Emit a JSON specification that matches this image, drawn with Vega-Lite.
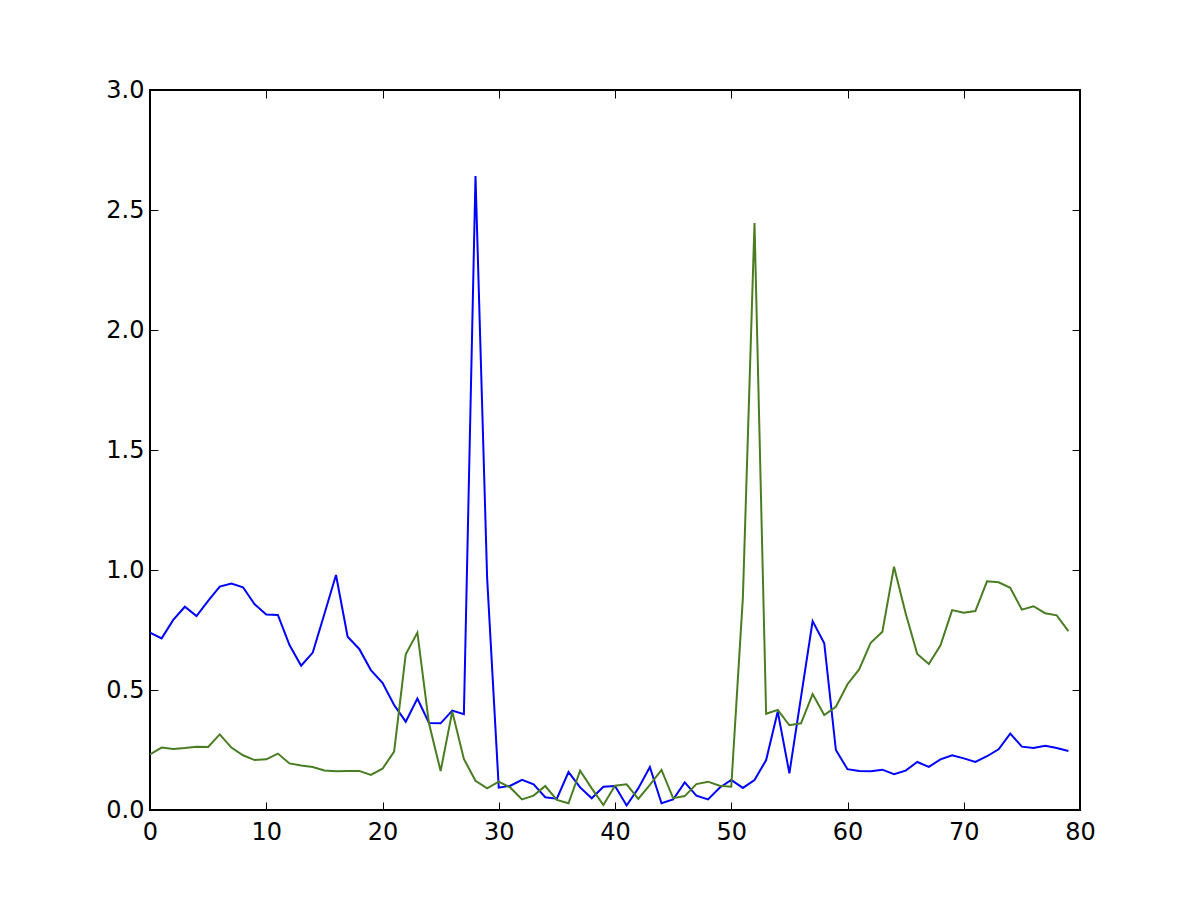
{
  "$schema": "https://vega.github.io/schema/vega-lite/v6.json",
  "width": 930,
  "height": 720,
  "autosize": {"type": "none"},
  "padding": {"left": 150, "top": 90, "right": 120, "bottom": 90},
  "background": "white",
  "config": {
    "view": {"stroke": "black", "strokeWidth": 2},
    "axis": {"labelFont": "DejaVu Sans", "labelFontSize": 24, "labelColor": "black", "grid": false, "domain": false, "tickColor": "black", "tickWidth": 1, "tickSize": -8, "title": null}
  },
  "data": {"values": [
    {"x":0,"a":0.739,"b":0.232},{"x":1,"a":0.715,"b":0.26},{"x":2,"a":0.792,"b":0.254},{"x":3,"a":0.847,"b":0.258},{"x":4,"a":0.808,"b":0.264},
    {"x":5,"a":0.871,"b":0.2625},{"x":6,"a":0.931,"b":0.315},{"x":7,"a":0.944,"b":0.26},{"x":8,"a":0.928,"b":0.228},{"x":9,"a":0.857,"b":0.208},
    {"x":10,"a":0.815,"b":0.211},{"x":11,"a":0.8125,"b":0.235},{"x":12,"a":0.6875,"b":0.194},{"x":13,"a":0.601,"b":0.185},{"x":14,"a":0.656,"b":0.179},
    {"x":15,"a":0.817,"b":0.165},{"x":16,"a":0.979,"b":0.161},{"x":17,"a":0.722,"b":0.163},{"x":18,"a":0.671,"b":0.163},{"x":19,"a":0.583,"b":0.146},
    {"x":20,"a":0.53,"b":0.172},{"x":21,"a":0.4375,"b":0.243},{"x":22,"a":0.368,"b":0.649},{"x":23,"a":0.464,"b":0.739},{"x":24,"a":0.3625,"b":0.36},
    {"x":25,"a":0.361,"b":0.1625},{"x":26,"a":0.414,"b":0.41},{"x":27,"a":0.399,"b":0.2125},{"x":28,"a":2.642,"b":0.122},{"x":29,"a":0.967,"b":0.09},
    {"x":30,"a":0.093,"b":0.118},{"x":31,"a":0.101,"b":0.093},{"x":32,"a":0.126,"b":0.044},{"x":33,"a":0.107,"b":0.06},{"x":34,"a":0.053,"b":0.1},
    {"x":35,"a":0.047,"b":0.042},{"x":36,"a":0.158,"b":0.028},{"x":37,"a":0.094,"b":0.164},{"x":38,"a":0.049,"b":0.09},{"x":39,"a":0.097,"b":0.021},
    {"x":40,"a":0.1,"b":0.101},{"x":41,"a":0.019,"b":0.107},{"x":42,"a":0.09,"b":0.046},{"x":43,"a":0.179,"b":0.105},{"x":44,"a":0.028,"b":0.167},
    {"x":45,"a":0.044,"b":0.049},{"x":46,"a":0.115,"b":0.058},{"x":47,"a":0.06,"b":0.108},{"x":48,"a":0.044,"b":0.118},{"x":49,"a":0.093,"b":0.101},
    {"x":50,"a":0.125,"b":0.097},{"x":51,"a":0.092,"b":0.885},{"x":52,"a":0.125,"b":2.446},{"x":53,"a":0.208,"b":0.401},{"x":54,"a":0.41,"b":0.417},
    {"x":55,"a":0.153,"b":0.353},{"x":56,"a":0.47,"b":0.361},{"x":57,"a":0.787,"b":0.483},{"x":58,"a":0.695,"b":0.396},{"x":59,"a":0.25,"b":0.43},
    {"x":60,"a":0.17,"b":0.524},{"x":61,"a":0.163,"b":0.586},{"x":62,"a":0.161,"b":0.697},{"x":63,"a":0.168,"b":0.743},{"x":64,"a":0.149,"b":1.014},
    {"x":65,"a":0.164,"b":0.82},{"x":66,"a":0.2,"b":0.65},{"x":67,"a":0.18,"b":0.608},{"x":68,"a":0.211,"b":0.686},{"x":69,"a":0.228,"b":0.833},
    {"x":70,"a":0.215,"b":0.822},{"x":71,"a":0.2,"b":0.829},{"x":72,"a":0.224,"b":0.953},{"x":73,"a":0.253,"b":0.949},{"x":74,"a":0.318,"b":0.926},
    {"x":75,"a":0.264,"b":0.835},{"x":76,"a":0.258,"b":0.849},{"x":77,"a":0.268,"b":0.82},{"x":78,"a":0.258,"b":0.811},{"x":79,"a":0.246,"b":0.745}
  ]},
  "transform": [{"fold": ["a", "b"], "as": ["series", "value"]}],
  "layer": [
    {
      "mark": {"type": "line", "strokeWidth": 2, "clip": true},
      "encoding": {
        "x": {"field": "x", "type": "quantitative", "scale": {"domain": [0, 80], "nice": false, "zero": false},
              "axis": {"orient": "bottom", "values": [0,10,20,30,40,50,60,70,80], "labelPadding": 18, "labelFlush": false}},
        "y": {"field": "value", "type": "quantitative", "scale": {"domain": [0, 3], "nice": false},
              "axis": {"orient": "left", "values": [0,0.5,1,1.5,2,2.5,3], "format": ".1f", "labelPadding": 14, "labelFlush": false}},
        "color": {"field": "series", "type": "nominal", "scale": {"domain": ["a", "b"], "range": ["#0000ff", "#4a7d22"]}, "legend": null},
        "order": {"field": "series"}
      }
    },
    {
      "mark": {"type": "line", "opacity": 0},
      "encoding": {
        "x": {"field": "x", "type": "quantitative",
              "axis": {"orient": "top", "values": [0,10,20,30,40,50,60,70,80], "labels": false}},
        "y": {"field": "value", "type": "quantitative",
              "axis": {"orient": "right", "values": [0,0.5,1,1.5,2,2.5,3], "labels": false}},
        "detail": {"field": "series"}
      }
    }
  ],
  "resolve": {"axis": {"x": "independent", "y": "independent"}}
}
